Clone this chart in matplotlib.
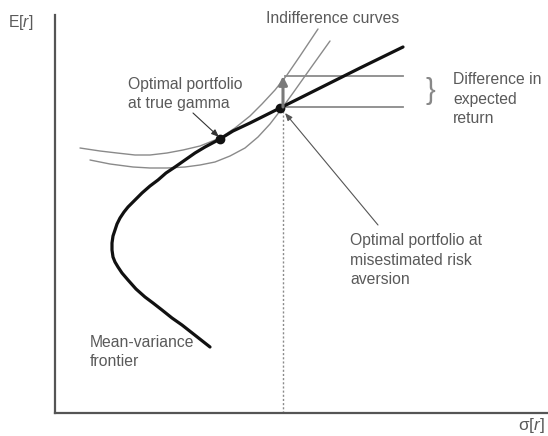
import matplotlib
matplotlib.use("Agg")
import matplotlib.pyplot as plt

plt.rcParams['font.family'] = ['Liberation Sans', 'DejaVu Sans']
plt.rcParams['mathtext.fontset'] = 'custom'
plt.rcParams['mathtext.rm'] = 'Liberation Sans'
plt.rcParams['mathtext.it'] = 'Liberation Sans:italic'

# Mean-variance frontier (sigma, E[r])
frontier_sigma = [348, 305, 265, 225, 195, 178, 165, 150, 140, 130, 120, 111, 103, 95, 87, 80, 73, 69, 65, 62,
                  60, 58, 57, 57, 58, 60, 63, 67, 73, 81, 90, 98, 107, 117, 127, 141, 155]
frontier_mu = [366, 345, 325, 305, 290, 282, 274, 266, 260, 253, 246, 240, 233, 227, 220, 213, 206, 201, 195, 189,
               183, 177, 170, 163, 156, 151, 146, 140, 133, 124, 116, 110, 103, 95, 88, 77, 66]

# Indifference curves
ic_upper_sigma = [25, 45, 62, 80, 95, 112, 128, 145, 165, 180, 195, 207, 220, 232, 245, 263]
ic_upper_mu = [265, 262, 260, 258, 258, 260, 263, 267, 275, 285, 297, 309, 323, 338, 357, 384]
ic_lower_sigma = [35, 55, 78, 95, 112, 130, 145, 160, 175, 190, 203, 215, 225, 238, 255, 275]
ic_lower_mu = [253, 249, 246, 245, 245, 246, 248, 251, 257, 265, 276, 289, 302, 320, 344, 372]

# Optimal portfolios
opt_true = (165, 274)
opt_mis = (225, 305)
# Expected-return levels compared
er_low = 306
er_high = 337
er_line_end = 348

text_c = '#5a5a5a'
line_c = '#8a8a8a'
fs = 11.3

fig = plt.figure(figsize=(5.48, 4.36), dpi=100)
ax = fig.add_axes([55/548, 23/436, 493/548, 398/436])
ax.set_xlim(0, 493)
ax.set_ylim(0, 398)
for s in ['top', 'right']:
    ax.spines[s].set_visible(False)
for s in ['left', 'bottom']:
    ax.spines[s].set_color('#555555')
    ax.spines[s].set_linewidth(1.6)
ax.set_xticks([])
ax.set_yticks([])

ax.plot(ic_upper_sigma, ic_upper_mu, color=line_c, lw=1.0, solid_capstyle='round', solid_joinstyle='round')
ax.plot(ic_lower_sigma, ic_lower_mu, color=line_c, lw=1.0, solid_capstyle='round', solid_joinstyle='round')

# dotted vertical line
ax.plot([opt_mis[0] + 3, opt_mis[0] + 3], [0, opt_mis[1]], color=line_c, lw=1.0, ls=(0, (1.5, 1.5)))

# horizontal lines
ax.plot([opt_mis[0] + 5, er_line_end], [er_low, er_low], color=line_c, lw=1.3)
ax.plot([opt_mis[0] + 5, er_line_end], [er_high, er_high], color=line_c, lw=1.3)

# vertical arrow showing difference
ax.annotate('', xy=(opt_mis[0] + 3, er_high), xytext=(opt_mis[0] + 3, er_low),
            arrowprops=dict(arrowstyle='-|>,head_length=0.5,head_width=0.25', color='#7a7a7a', lw=2.2,
                            shrinkA=0, shrinkB=0))

ax.plot(frontier_sigma, frontier_mu, color='#111111', lw=2.3, solid_joinstyle='round', solid_capstyle='round')

ax.plot([opt_true[0], opt_mis[0]], [opt_true[1], opt_mis[1]], 'o', color='#111111', ms=6, ls='none')

# annotation arrows
ax.annotate('', xy=(opt_true[0] - 1, opt_true[1] + 2), xytext=(138, 300),
            arrowprops=dict(arrowstyle='-|>,head_length=0.45,head_width=0.18', color='#333333', lw=0.8,
                            shrinkA=0, shrinkB=0))
ax.annotate('', xy=(opt_mis[0] + 5, opt_mis[1] - 5), xytext=(323, 188),
            arrowprops=dict(arrowstyle='-|>,head_length=0.45,head_width=0.18', color='#555555', lw=0.8,
                            shrinkA=0, shrinkB=0))

ls = 1.35
ax.text(73, 319, 'Optimal portfolio\nat true gamma', fontsize=fs, color=text_c, va='center', ha='left',
        linespacing=ls, clip_on=False)
ax.text(295, 153, 'Optimal portfolio at\nmisestimated risk\naversion', fontsize=fs, color=text_c,
        va='center', ha='left', linespacing=ls, clip_on=False)
ax.text(211, 395, 'Indifference curves', fontsize=fs, color=text_c, va='center', ha='left', clip_on=False)
ax.text(375, (er_low + er_high) / 2 + 1, '}', fontsize=21, color='#888888', va='center', ha='center',
        fontweight='light', clip_on=False)
ax.text(398, 314, 'Difference in\nexpected\nreturn', fontsize=fs, color=text_c, va='center', ha='left',
        linespacing=ls, clip_on=False)
ax.text(35, 61, 'Mean-variance\nfrontier', fontsize=fs, color=text_c, va='center', ha='left',
        linespacing=ls, clip_on=False)

fig.text(8/548, 1 - 22/436, 'E[$\\mathit{r}$]', fontsize=fs, color=text_c, va='center', ha='left')
fig.text(518/548, 1 - 425/436, 'σ[$\\mathit{r}$]', fontsize=fs + 1, color=text_c, va='center', ha='left')

fig.savefig('out.png', dpi=100, facecolor='white')
